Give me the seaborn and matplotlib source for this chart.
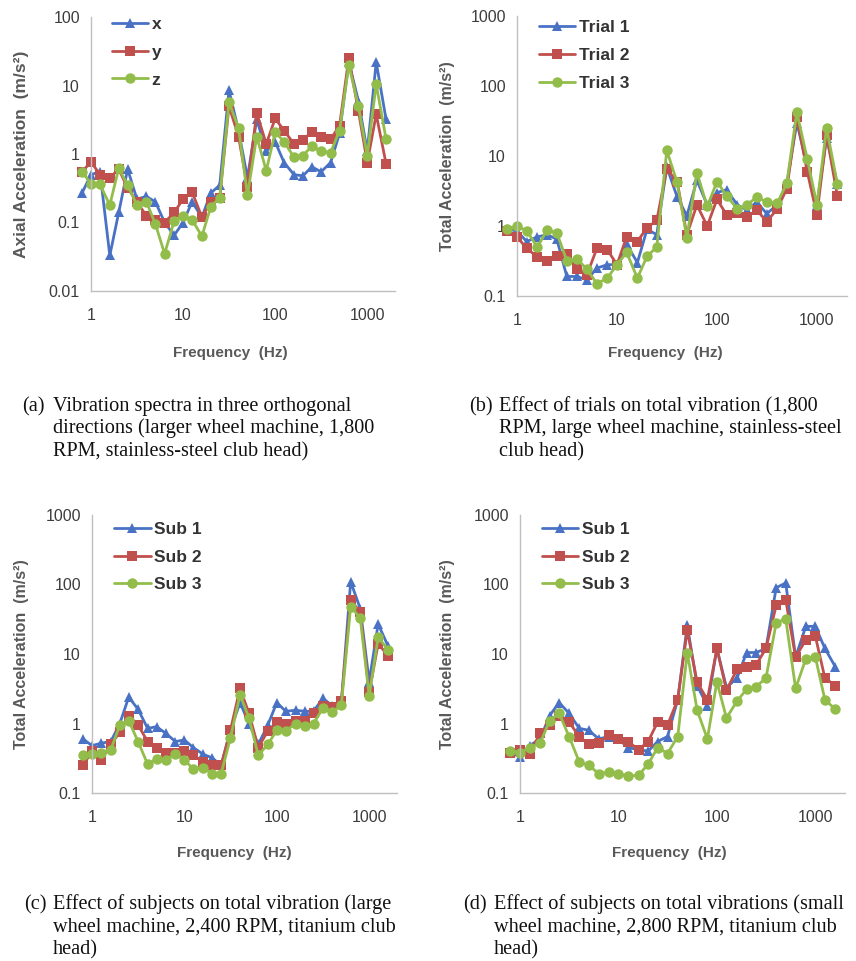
import numpy as np
import pandas as pd
import seaborn as sns
import matplotlib
matplotlib.use("Agg")
import matplotlib.pyplot as plt
from matplotlib.ticker import FuncFormatter, LogLocator, NullFormatter

# ---------------- data ----------------
freq = [0.8, 1, 1.25, 1.6, 2, 2.5, 3.15, 4, 5, 6.3, 8, 10, 12.5, 16, 20, 25, 31.5, 40,
        50, 63, 80, 100, 125, 160, 200, 250, 315, 400, 500, 630, 800, 1000, 1250, 1600]

# (a) axial acceleration
a_x = [0.27, 0.5, 0.55, 0.033, 0.14, 0.6, 0.22, 0.24, 0.2, 0.1, 0.065, 0.1, 0.2, 0.12, 0.27, 0.35,
       8.5, 2.2, 0.45, 3.2, 1.1, 1.5, 0.75, 0.5, 0.48, 0.65, 0.55, 0.75, 2.0, 22, 6.0, 1.1, 22, 3.2]
a_y = [0.55, 0.77, 0.5, 0.45, 0.6, 0.32, 0.2, 0.125, 0.11, 0.1, 0.14, 0.22, 0.28, 0.12, 0.2, 0.23,
       5.0, 1.8, 0.33, 4.0, 1.4, 3.3, 2.2, 1.4, 1.6, 2.1, 1.75, 1.65, 2.6, 25, 4.3, 0.75, 3.8, 0.72]
a_z = [0.55, 0.37, 0.36, 0.18, 0.62, 0.35, 0.18, 0.2, 0.095, 0.035, 0.105, 0.125, 0.11, 0.063, 0.17, 0.23,
       5.7, 2.4, 0.25, 1.8, 0.57, 2.1, 1.5, 0.9, 0.95, 1.3, 1.1, 1.05, 2.2, 20, 5.0, 0.95, 10.5, 1.65]

# (b) trials
b_t1 = [0.9, 0.85, 0.6, 0.7, 0.75, 0.65, 0.19, 0.19, 0.17, 0.25, 0.28, 0.28, 0.55, 0.3, 0.9, 0.75,
        7.0, 2.6, 1.4, 4.5, 2.0, 3.0, 3.3, 2.0, 1.7, 2.2, 1.5, 2.0, 4.0, 30, 7.0, 2.0, 18, 4.0]
b_t2 = [0.85, 0.7, 0.48, 0.36, 0.32, 0.37, 0.4, 0.24, 0.2, 0.48, 0.46, 0.28, 0.7, 0.6, 0.95, 1.2,
        6.5, 4.3, 0.75, 2.0, 1.0, 2.4, 1.45, 1.55, 1.35, 1.7, 1.15, 1.75, 3.4, 36, 6.0, 1.45, 20, 2.7]
b_t3 = [0.9, 1.0, 0.85, 0.5, 0.88, 0.8, 0.32, 0.34, 0.24, 0.15, 0.18, 0.28, 0.42, 0.18, 0.37, 0.5,
        12, 4.2, 0.68, 5.8, 1.9, 4.3, 2.7, 1.75, 2.0, 2.6, 2.2, 2.1, 4.1, 42, 9.2, 2.0, 25, 4.0]

# (c) subjects, large wheel machine
c_s1 = [0.6, 0.48, 0.52, 0.55, 1.0, 2.4, 1.6, 0.85, 0.9, 0.72, 0.55, 0.58, 0.45, 0.36, 0.32, 0.25,
        0.8, 2.0, 1.0, 0.5, 0.95, 2.0, 1.5, 1.55, 1.5, 1.5, 2.3, 1.8, 2.0, 110, 45, 4.0, 27, 13]
c_s2 = [0.25, 0.4, 0.3, 0.5, 0.75, 1.3, 0.95, 0.55, 0.45, 0.38, 0.38, 0.4, 0.35, 0.28, 0.25, 0.25,
        0.8, 3.2, 1.4, 0.45, 0.78, 1.05, 1.0, 1.1, 1.1, 1.4, 1.8, 1.7, 2.1, 60, 40, 2.8, 14, 9.5]
c_s3 = [0.35, 0.37, 0.38, 0.42, 0.95, 1.1, 0.55, 0.26, 0.31, 0.3, 0.36, 0.3, 0.22, 0.23, 0.19, 0.19,
        0.62, 2.6, 1.2, 0.35, 0.5, 0.8, 0.78, 1.0, 0.92, 1.0, 1.65, 1.45, 1.85, 48, 33, 2.5, 17.5, 11.5]

# (d) subjects, small wheel machine
d_s1 = [0.38, 0.33, 0.48, 0.6, 1.3, 2.0, 1.4, 0.85, 0.8, 0.6, 0.65, 0.6, 0.45, 0.42, 0.4, 0.55,
        0.65, 2.2, 26, 3.5, 1.8, 12, 3.3, 4.5, 10.5, 10.5, 12, 90, 105, 9.0, 25, 25, 12, 6.5]
d_s2 = [0.38, 0.42, 0.37, 0.72, 0.95, 1.3, 1.05, 0.65, 0.5, 0.52, 0.68, 0.6, 0.55, 0.42, 0.55, 1.05,
        0.95, 2.2, 22, 3.9, 2.2, 12, 3.0, 6.0, 6.5, 7.0, 12, 50, 60, 9.0, 16, 18, 4.5, 3.5]
d_s3 = [0.4, 0.38, 0.45, 0.52, 1.1, 1.4, 0.65, 0.28, 0.25, 0.19, 0.2, 0.19, 0.175, 0.18, 0.26, 0.45,
        0.37, 0.65, 10.5, 1.55, 0.6, 4.0, 1.2, 2.1, 3.1, 3.4, 4.5, 28, 32, 3.2, 8.5, 9.0, 2.2, 1.6]

names_a = ["x", "y", "z"]
names_b = ["Trial 1", "Trial 2", "Trial 3"]
names_cd = ["Sub 1", "Sub 2", "Sub 3"]

captions = [
    ("(a)", ["Vibration spectra in three orthogonal",
             "directions (larger wheel machine, 1,800",
             "RPM, stainless-steel club head)"]),
    ("(b)", ["Effect of trials on total vibration (1,800",
             "RPM, large wheel machine, stainless-steel",
             "club head)"]),
    ("(c)", ["Effect of subjects on total vibration (large",
             "wheel machine, 2,400 RPM, titanium club",
             "head)"]),
    ("(d)", ["Effect of subjects on total vibrations (small",
             "wheel machine, 2,800 RPM, titanium club",
             "head)"]),
]

# ---------------- style ----------------
sns.set_style("white")
plt.rcParams["font.family"] = ["Liberation Sans", "DejaVu Sans"]

COLORS = ["#4A72C4", "#C0504D", "#93BD4B"]
MARKERS = ["^", "s", "o"]
SPINE = "#BFBFBF"
TICKC = "#3C3C3C"
LABC = "#595959"

W, H = 856, 961
fig = plt.figure(figsize=(W / 100, H / 100), dpi=100)


def ax_at(l, t, r, b):
    return fig.add_axes([l / W, 1 - b / H, (r - l) / W, (b - t) / H])


def panel(ax, series, names, ylim, ylabel, ylsize, ylabel_x, freq_x, freq_y, legend_pos):
    rows = []
    for nm, vals in zip(names, series):
        for f, v in zip(freq, vals):
            rows.append({"f": f, "v": v, "s": nm})
    df = pd.DataFrame(rows)
    sns.lineplot(data=df, x="f", y="v", hue="s", style="s", markers=MARKERS, dashes=False,
                 palette=COLORS, hue_order=names, style_order=names, ax=ax,
                 linewidth=2.0, markersize=7.5, markeredgewidth=0, legend=False, sort=False)
    for ln in ax.lines:
        ln.set_clip_on(False)
    ax.set_xscale("log")
    ax.set_yscale("log")
    ax.set_xlim(1, 2000)
    ax.set_ylim(*ylim)
    ax.set_xlabel("")
    ax.set_ylabel("")
    for s in ["top", "right"]:
        ax.spines[s].set_visible(False)
    for s in ["left", "bottom"]:
        ax.spines[s].set_color(SPINE)
        ax.spines[s].set_linewidth(1.0)
    fmt = FuncFormatter(lambda v, p: "{:g}".format(v))
    ax.xaxis.set_major_locator(LogLocator(base=10, numticks=10))
    ax.yaxis.set_major_locator(LogLocator(base=10, numticks=10))
    ax.xaxis.set_major_formatter(fmt)
    ax.yaxis.set_major_formatter(fmt)
    ax.xaxis.set_minor_locator(LogLocator(base=10, subs=np.arange(2, 10), numticks=20))
    ax.yaxis.set_minor_locator(LogLocator(base=10, subs=np.arange(2, 10), numticks=20))
    ax.xaxis.set_minor_formatter(NullFormatter())
    ax.yaxis.set_minor_formatter(NullFormatter())
    ax.tick_params(axis="both", which="major", length=5, width=1, color=SPINE,
                   labelsize=11.5, labelcolor=TICKC, direction="out")
    ax.tick_params(axis="both", which="minor", length=3, width=0.8, color="#D0D0D0", direction="out")
    ax.tick_params(axis="x", pad=7)
    ax.tick_params(axis="y", pad=3)

    bb = ax.get_position()
    yc = (bb.y0 + bb.y1) / 2
    fig.text(ylabel_x / W, yc, ylabel, rotation=90, ha="center", va="center",
             fontsize=ylsize, fontweight="bold", color=LABC)
    fig.text(freq_x / W, 1 - freq_y / H, "Frequency  (Hz)", ha="center", va="center",
             fontsize=11, fontweight="bold", color=LABC)

    handles = [plt.Line2D([], [], color=c, marker=m, lw=2.0, markersize=7.5, markeredgewidth=0)
               for c, m in zip(COLORS, MARKERS)]
    leg = ax.legend(handles, names, loc="upper left", bbox_to_anchor=legend_pos, frameon=False,
                    handlelength=2.1, handletextpad=0.2, labelspacing=0.72, borderaxespad=0,
                    prop={"weight": "bold", "size": 12.5})
    for t in leg.get_texts():
        t.set_color("#333333")


ax_a = ax_at(91, 17, 395, 291)
panel(ax_a, [a_x, a_y, a_z], names_a, (0.01, 100), "Axial Acceleration  (m/s²)", 12.5,
      22, 230, 353, (0.045, 1.025))

ax_b = ax_at(517, 16, 847, 296)
panel(ax_b, [b_t1, b_t2, b_t3], names_b, (0.1, 1000), "Total Acceleration  (m/s²)", 11.5,
      448, 665, 353, (0.045, 1.01))

ax_c = ax_at(92, 515, 397, 793)
panel(ax_c, [c_s1, c_s2, c_s3], names_cd, (0.1, 1000), "Total Acceleration  (m/s²)", 11.5,
      22, 234, 853, (0.05, 1.0))

ax_d = ax_at(520, 515, 845, 793)
panel(ax_d, [d_s1, d_s2, d_s3], names_cd, (0.1, 1000), "Total Acceleration  (m/s²)", 11.5,
      448, 669, 853, (0.045, 1.0))

# captions (hanging indent, one text per line)
serif = ["Liberation Serif", "DejaVu Serif"]
cap_pos = [(22, 53, 411), (469, 499, 411), (24, 53, 909), (463, 494, 909)]
PITCH = 22.5
CAPSIZE = 14.6
for (lab, lines), (xl, xt, yb) in zip(captions, cap_pos):
    fig.text(xl / W, 1 - yb / H, lab, ha="left", va="baseline", fontsize=CAPSIZE,
             family=serif, color="#111111")
    for i, line in enumerate(lines):
        fig.text(xt / W, 1 - (yb + i * PITCH) / H, line, ha="left", va="baseline",
                 fontsize=CAPSIZE, family=serif, color="#111111")

fig.savefig("out.png", dpi=100, facecolor="white")
